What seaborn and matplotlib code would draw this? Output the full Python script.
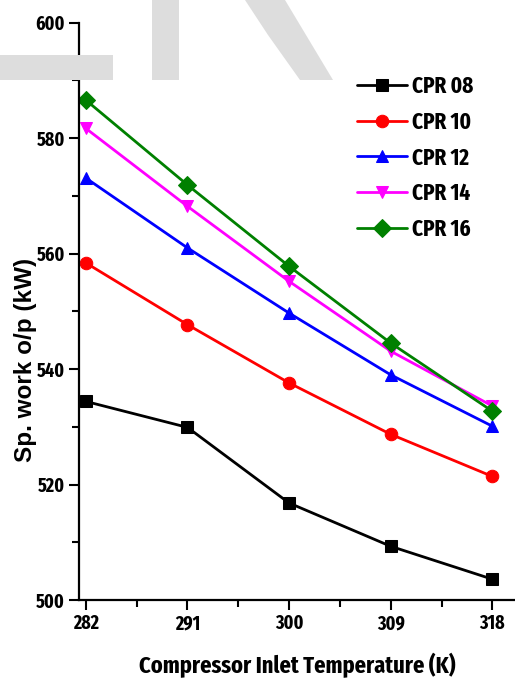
import matplotlib
matplotlib.use("Agg")
import matplotlib.pyplot as plt
from matplotlib.patches import Polygon
from matplotlib.ticker import FixedLocator, MultipleLocator
import seaborn as sns
import pandas as pd

temps = [282, 291, 300, 309, 318]
cpr08 = [534.4, 529.9, 516.8, 509.3, 503.6]
cpr10 = [558.4, 547.7, 537.6, 528.7, 521.4]
cpr12 = [573.1, 561.0, 549.7, 539.0, 530.1]
cpr14 = [581.7, 568.2, 555.2, 543.1, 533.6]
cpr16 = [586.6, 571.9, 557.8, 544.5, 532.7]
series_names = ["CPR 08", "CPR 10", "CPR 12", "CPR 14", "CPR 16"]
xticks = [282, 291, 300, 309, 318]
xminor = [286.5, 295.5, 304.5, 313.5]
yticks = [500, 520, 540, 560, 580, 600]

NARROW = 'Fira Sans Extra Condensed'
sns.set_theme(style="ticks")
plt.rcParams['font.family'] = [NARROW, 'DejaVu Sans']
plt.rcParams['text.color'] = 'black'
plt.rcParams['axes.labelcolor'] = 'black'
plt.rcParams['xtick.color'] = 'black'
plt.rcParams['ytick.color'] = 'black'

rows = []
for name, vals in zip(series_names, [cpr08, cpr10, cpr12, cpr14, cpr16]):
    for t, v in zip(temps, vals):
        rows.append({"T": t, "W": v, "series": name})
df = pd.DataFrame(rows)

palette = {"CPR 08": "#000000", "CPR 10": "#ff0000", "CPR 12": "#0000ff",
           "CPR 14": "#ff00ff", "CPR 16": "#008000"}
markers = {"CPR 08": "s", "CPR 10": "o", "CPR 12": "^", "CPR 14": "v", "CPR 16": "D"}

fig = plt.figure(figsize=(5.15, 6.92), dpi=100)
W, H = 515, 692

# light-gray watermark shapes (figure pixel coords, top-left origin)
def poly(pts):
    return Polygon([(x / W, 1 - y / H) for x, y in pts], closed=True,
                   transform=fig.transFigure, facecolor="#dddddd",
                   edgecolor="none", zorder=0)
fig.patches.append(poly([(0, 55), (113, 55), (113, 80), (0, 80)]))
fig.patches.append(poly([(152, 0), (179, 0), (179, 80), (152, 80)]))
fig.patches.append(poly([(245, 0), (285, 0), (333, 80), (300, 80), (268, 35)]))

ax = fig.add_axes([79 / W, 1 - 600 / H, 1 - 79 / W, (600 - 22.7) / H])
ax.patch.set_alpha(0)

sns.lineplot(data=df, x="T", y="W", hue="series", style="series",
             palette=palette, markers=markers, dashes=False, ax=ax,
             linewidth=2.0, markersize=9,
             hue_order=series_names, style_order=series_names)
for line in ax.lines:
    line.set_markeredgecolor(line.get_color())

ax.set_xlim(281.4, 320)
ax.set_ylim(500, 600)
ax.set_xticks(xticks)
ax.set_yticks(yticks)
ax.xaxis.set_minor_locator(FixedLocator(xminor))
ax.yaxis.set_minor_locator(MultipleLocator(10))
sns.despine(ax=ax)
for s in ["left", "bottom"]:
    ax.spines[s].set_linewidth(1.6)
    ax.spines[s].set_color("black")
ax.tick_params(which="major", direction="out", length=7, width=1.5,
               labelsize=14, pad=3)
ax.tick_params(which="minor", direction="out", length=5, width=1.5)
for lab in ax.get_xticklabels() + ax.get_yticklabels():
    lab.set_fontweight("bold")

ax.set_xlabel("Compressor Inlet Temperature (K)", fontsize=17.5, fontweight="bold",
              labelpad=14)
ax.set_ylabel("Sp. work o/p (kW)", fontsize=17.5, fontweight="bold",
              family=["Liberation Sans", "DejaVu Sans"])
ax.yaxis.set_label_coords(-0.096, 0.416)

leg = ax.legend(loc="upper left", bbox_to_anchor=(0.59, 0.945), frameon=False,
                handlelength=2.2, handletextpad=0.2,
                labelspacing=0.55, prop={"family": NARROW,
                                         "weight": "bold", "size": 16.5})
for h in leg.get_lines():
    h.set_linewidth(2.0)

fig.savefig("out.png", dpi=100)
